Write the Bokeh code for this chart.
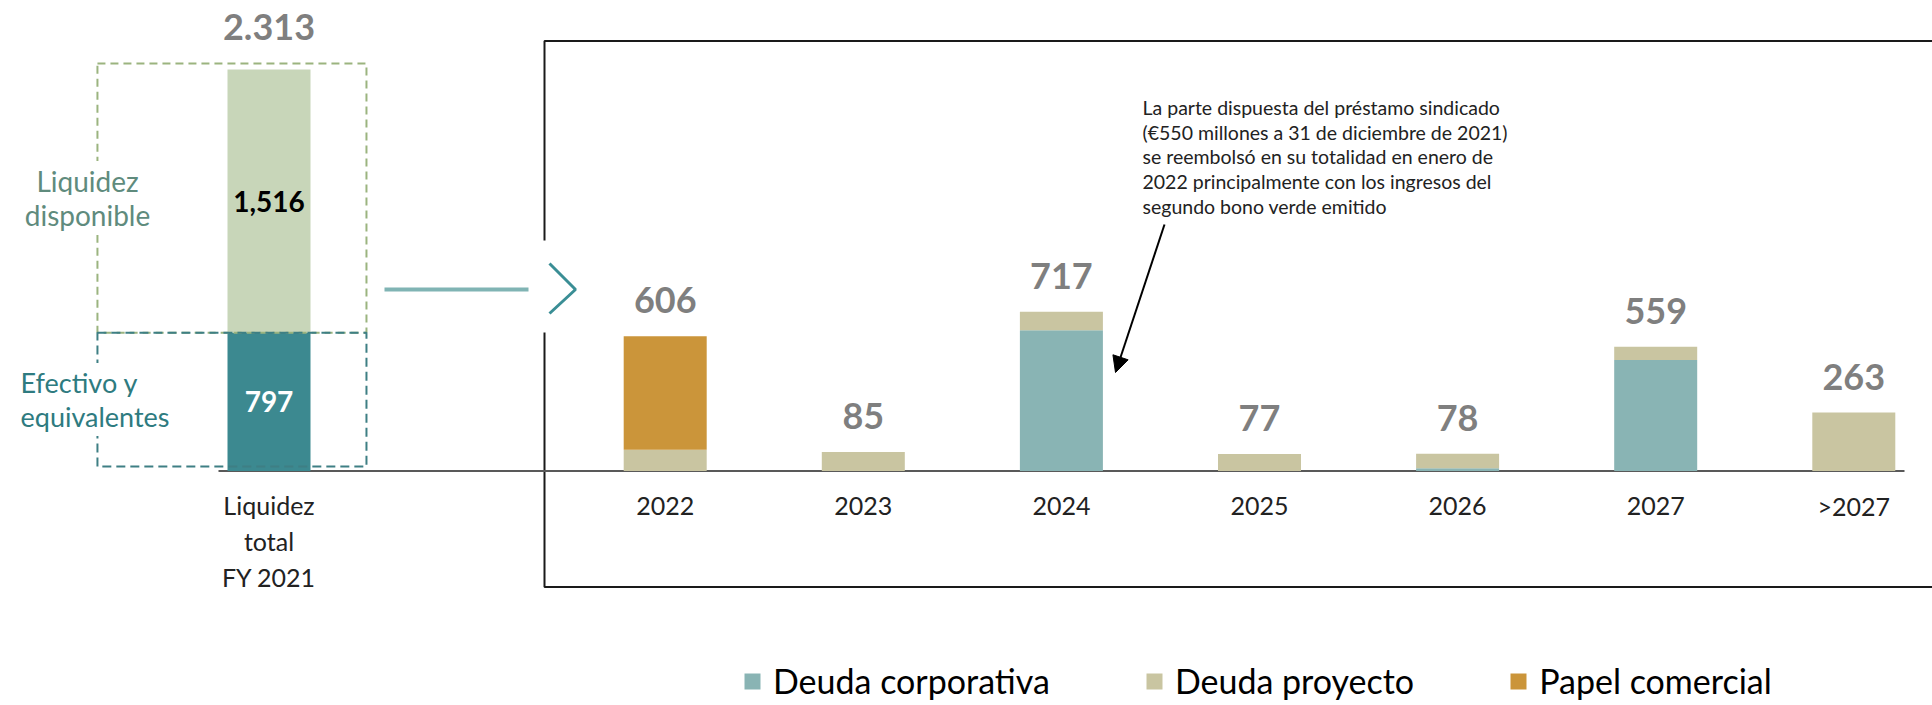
import numpy as np
from bokeh.plotting import figure
from bokeh.models import (Range1d, ColumnDataSource, Legend, LegendItem, Arrow,
                          NormalHead, Label)
from bokeh.core.properties import value
from bokeh.embed import file_html
from bokeh.resources import INLINE

# ---------------- data ----------------
years = ["2022", "2023", "2024", "2025", "2026", "2027", ">2027"]
deuda_corporativa = [0, 0, 633, 0, 12, 500, 0]
deuda_proyecto = [96, 85, 84, 77, 66, 59, 263]
papel_comercial = [510, 0, 0, 0, 0, 0, 0]
totales = [606, 85, 717, 77, 78, 559, 263]
total_labels = ["606", "85", "717", "77", "78", "559", "263"]

liq_category = "Liquidez\ntotal\nFY 2021"
efectivo = 797
disponible = 1516
liq_total_label = "2.313"
efectivo_label = "797"
disponible_label = "1,516"

series_names = ["Deuda corporativa", "Deuda proyecto", "Papel comercial"]
annotation_lines = [
    "La parte dispuesta del préstamo sindicado",
    "(€550 millones a 31 de diciembre de 2021)",
    "se reembolsó en su totalidad en enero de",
    "2022 principalmente con los ingresos del",
    "segundo bono verde emitido",
]

# ---------------- layout constants ----------------
W, H = 1932, 705
STEP = 198.1      # px per category slot
X0 = 268.5        # px of slot 0 centre
BASE = H - 470.5  # px of the baseline from the bottom of the figure
R_UPP = 4.4996    # right-panel units per px
L_UPP = 5.761     # left-panel units per px
FONT = "Lato"

C_CORP = "#89b4b4"
C_PROY = "#c9c5a1"
C_PAPEL = "#cb953a"
C_EFE = "#3c8990"
C_DISP = "#c8d6b9"
GRAY = "#7f7f7f"
DARK = "#222222"


def dx(px):
    return (px - X0) / STEP


def dy(py):
    return (H - py - BASE) * R_UPP


p = figure(width=W, height=H, output_backend="svg", toolbar_location=None,
           x_range=Range1d(-X0 / STEP, (W - X0) / STEP),
           y_range=Range1d(-BASE * R_UPP, (H - BASE) * R_UPP),
           x_axis_location=None, y_axis_location=None,
           min_border=0, outline_line_color=None)
p.extra_y_ranges = {"liq": Range1d(-BASE * L_UPP, (H - BASE) * L_UPP)}
p.grid.visible = False
p.background_fill_color = "white"

# ---------------- right panel frame ----------------
p.multi_line(
    xs=[[dx(544), dx(544), dx(1945)], [dx(544), dx(544), dx(1945)]],
    ys=[[dy(240), dy(40.5), dy(40.5)], [dy(332), dy(586.5), dy(586.5)]],
    line_color="#1a1a1a", line_width=2)

# baseline
p.segment(x0=[dx(218)], y0=[0], x1=[dx(1904)], y1=[0],
          line_color="#595959", line_width=2)

# connector line + chevron
p.segment(x0=[dx(384)], y0=[dy(289)], x1=[dx(528)], y1=[dy(289)],
          line_color="#80b4b4", line_width=4)
p.line(x=[dx(549), dx(575), dx(549)], y=[dy(263), dy(289), dy(313)],
       line_color="#3a8e95", line_width=3)

# ---------------- right bars ----------------
xs = np.arange(len(years)) + 2
src = ColumnDataSource(dict(x=xs, corp=deuda_corporativa, proy=deuda_proyecto,
                            papel=papel_comercial, tot=totales, lab=total_labels,
                            cat=years))
rs = p.vbar_stack(["corp", "proy", "papel"], x="x", width=0.419,
                  color=[C_CORP, C_PROY, C_PAPEL], line_color=None, source=src)

p.text(x="x", y="tot", text="lab", source=src, text_align="center",
       text_baseline="alphabetic", y_offset=-36, text_font=value(FONT),
       text_font_style="bold", text_font_size="36px", text_color=GRAY)

p.text(x="x", y=0, text="cat", source=src, text_align="center",
       text_baseline="middle", y_offset=35, text_font=value(FONT),
       text_font_size="25px", text_color=DARK)

# ---------------- left panel ----------------
lsrc = ColumnDataSource(dict(x=[0], efe=[efectivo], disp=[disponible]))
p.vbar_stack(["efe", "disp"], x="x", width=0.419, color=[C_EFE, C_DISP],
             line_color=None, source=lsrc, y_range_name="liq")

total = efectivo + disponible
# dashed boxes
p.quad(left=[-0.866], right=[0.492], bottom=[efectivo], top=[total + 6 * L_UPP],
       fill_alpha=0, line_color="#9bb47f", line_width=2, line_dash="8 5",
       y_range_name="liq")
p.quad(left=[-0.866], right=[0.492], bottom=[4.5 * L_UPP], top=[efectivo],
       fill_alpha=0, line_color="#3e7f84", line_width=2, line_dash="9 5",
       y_range_name="liq")

p.text(x=[0, 0], y=[efectivo / 2, efectivo + disponible / 2],
       text=[efectivo_label, disponible_label], text_align="center",
       text_baseline="middle", text_font=value(FONT), text_font_style="bold",
       text_font_size="28px", text_color=["white", "black"], y_range_name="liq")
p.text(x=[0], y=[total], text=[liq_total_label], text_align="center",
       text_baseline="alphabetic", y_offset=-43, text_font=value(FONT),
       text_font_style="bold", text_font_size="36px", text_color=GRAY,
       y_range_name="liq")
p.text(x=[0], y=[0], text=[liq_category], text_align="center",
       text_baseline="middle", y_offset=70, line_height=1.2,
       text_font=value(FONT), text_font_size="25px", text_color=DARK,
       y_range_name="liq")

disp_c = (efectivo + total + 6 * L_UPP) / 2
efe_c = (4.5 * L_UPP + efectivo) / 2
for txt, yy in [("Liquidez", disp_c + 17 * L_UPP), ("disponible", disp_c - 17 * L_UPP)]:
    p.add_layout(Label(x=dx(87), y=yy, y_range_name="liq", text=txt,
                       text_align="center", text_baseline="middle",
                       text_font=FONT, text_font_size="28px", text_color="#5f8b7d",
                       background_fill_color="white", padding=3))
for txt, yy in [("Efectivo y", efe_c + 17 * L_UPP), ("equivalentes", efe_c - 17 * L_UPP)]:
    p.add_layout(Label(x=dx(17), y=yy, y_range_name="liq", text=txt,
                       text_align="left", text_baseline="middle",
                       text_font=FONT, text_font_size="27px", text_color="#2e7b80",
                       background_fill_color="white", padding=3))

# ---------------- annotation ----------------
p.text(x=[dx(1142)] * len(annotation_lines),
       y=[dy(107.2 + 24.6 * i) for i in range(len(annotation_lines))],
       text=annotation_lines, text_align="left", text_baseline="middle",
       text_font=value(FONT), text_font_size="19.5px", text_color=DARK)
p.add_layout(Arrow(end=NormalHead(size=16, fill_color="black", line_color="black"),
                   x_start=dx(1164), y_start=dy(224), x_end=dx(1115), y_end=dy(372),
                   line_color="black", line_width=2))

# ---------------- legend ----------------
legend = Legend(items=[LegendItem(label=n, renderers=[r]) for n, r in zip(series_names, rs)],
                orientation="horizontal", location=(742, 4), spacing=94,
                glyph_width=20, glyph_height=20, label_standoff=11,
                label_text_font=FONT, label_text_font_size="34px",
                label_text_color="black", border_line_alpha=0,
                background_fill_alpha=0, padding=0, margin=0)
p.add_layout(legend, "center")

open("out.html", "w").write(file_html(p, INLINE))
